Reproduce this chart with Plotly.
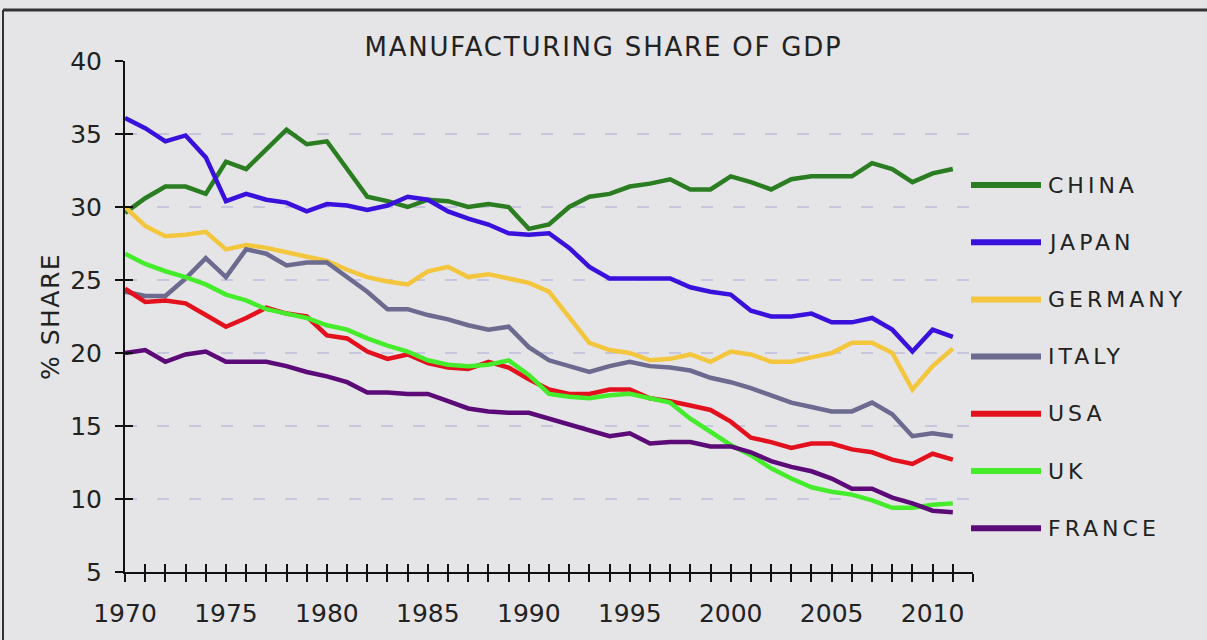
import plotly.graph_objects as go

years = list(range(1970, 2012))

china = [29.6, 30.6, 31.4, 31.4, 30.9, 33.1, 32.6, 34.0, 35.3, 34.3,
         34.5, 32.6, 30.7, 30.4, 30.0, 30.5, 30.4, 30.0, 30.2, 30.0,
         28.5, 28.8, 30.0, 30.7, 30.9, 31.4, 31.6, 31.9, 31.2, 31.2,
         32.1, 31.7, 31.2, 31.9, 32.1, 32.1, 32.1, 33.0, 32.6, 31.7,
         32.3, 32.6]
japan = [36.1, 35.4, 34.5, 34.9, 33.4, 30.4, 30.9, 30.5, 30.3, 29.7,
         30.2, 30.1, 29.8, 30.1, 30.7, 30.5, 29.7, 29.2, 28.8, 28.2,
         28.1, 28.2, 27.2, 25.9, 25.1, 25.1, 25.1, 25.1, 24.5, 24.2,
         24.0, 22.9, 22.5, 22.5, 22.7, 22.1, 22.1, 22.4, 21.6, 20.1,
         21.6, 21.1]
germany = [30.0, 28.7, 28.0, 28.1, 28.3, 27.1, 27.4, 27.2, 26.9, 26.6,
           26.3, 25.7, 25.2, 24.9, 24.7, 25.6, 25.9, 25.2, 25.4, 25.1,
           24.8, 24.2, 22.5, 20.7, 20.2, 20.0, 19.5, 19.6, 19.9, 19.4,
           20.1, 19.9, 19.4, 19.4, 19.7, 20.0, 20.7, 20.7, 20.0, 17.5,
           19.1, 20.3]
italy = [24.2, 23.9, 23.9, 25.1, 26.5, 25.2, 27.1, 26.8, 26.0, 26.2,
         26.2, 25.2, 24.2, 23.0, 23.0, 22.6, 22.3, 21.9, 21.6, 21.8,
         20.4, 19.5, 19.1, 18.7, 19.1, 19.4, 19.1, 19.0, 18.8, 18.3,
         18.0, 17.6, 17.1, 16.6, 16.3, 16.0, 16.0, 16.6, 15.8, 14.3,
         14.5, 14.3]
usa = [24.4, 23.5, 23.6, 23.4, 22.6, 21.8, 22.4, 23.1, 22.7, 22.5,
       21.2, 21.0, 20.1, 19.6, 19.9, 19.3, 19.0, 18.9, 19.4, 19.0,
       18.2, 17.5, 17.2, 17.2, 17.5, 17.5, 16.9, 16.7, 16.4, 16.1,
       15.3, 14.2, 13.9, 13.5, 13.8, 13.8, 13.4, 13.2, 12.7, 12.4,
       13.1, 12.7]
uk = [26.8, 26.1, 25.6, 25.2, 24.7, 24.0, 23.6, 23.0, 22.7, 22.4,
      21.9, 21.6, 21.0, 20.5, 20.1, 19.5, 19.2, 19.1, 19.2, 19.5,
      18.5, 17.2, 17.0, 16.9, 17.1, 17.2, 16.9, 16.6, 15.5, 14.6,
      13.7, 13.0, 12.1, 11.4, 10.8, 10.5, 10.3, 9.9, 9.4, 9.4,
      9.6, 9.7]
france = [20.0, 20.2, 19.4, 19.9, 20.1, 19.4, 19.4, 19.4, 19.1, 18.7,
          18.4, 18.0, 17.3, 17.3, 17.2, 17.2, 16.7, 16.2, 16.0, 15.9,
          15.9, 15.5, 15.1, 14.7, 14.3, 14.5, 13.8, 13.9, 13.9, 13.6,
          13.6, 13.2, 12.6, 12.2, 11.9, 11.4, 10.7, 10.7, 10.1, 9.7,
          9.2, 9.1]

series_names = ["CHINA", "JAPAN", "GERMANY", "ITALY", "USA", "UK", "FRANCE"]
series_values = [china, japan, germany, italy, usa, uk, france]
series_colors = ["#2b7d22", "#3a10dd", "#f3c63e", "#6c6a8e", "#e3101e", "#45ec2c", "#5c0a78"]

x_tick_years = list(range(1970, 2013))
x_label_years = [1970, 1975, 1980, 1985, 1990, 1995, 2000, 2005, 2010]
x_label_texts = ["1970", "1975", "1980", "1985", "1990", "1995", "2000", "2005", "2010"]
y_tick_values = [5, 10, 15, 20, 25, 30, 35, 40]

TITLE = "MANUFACTURING SHARE OF GDP"
Y_TITLE = "% SHARE"

FONT = "DejaVu Sans"
TXT = "#222222"
BG = "#e5e5e7"
AX = "#111111"
LEG_SPACING = 4.0

fig = go.Figure()
for name, vals, col in zip(series_names, series_values, series_colors):
    fig.add_trace(go.Scatter(x=years, y=vals, name=name, mode="lines",
                             line=dict(color=col, width=4.5), showlegend=False))

# invisible traces that host the overlay axes (crossing ticks, year labels)
for xa, ya in (("x2", "y2"), ("x3", "y")):
    fig.add_trace(go.Scatter(x=years, y=china, xaxis=xa, yaxis=ya, mode="lines",
                             line=dict(width=0, color="rgba(0,0,0,0)"), showlegend=False,
                             hoverinfo="skip"))

W, H = 1207, 640
ml, mr, mt, mb = 125, 234, 61, 68
pw, ph = W - ml - mr, H - mt - mb

xr = [x_tick_years[0], x_tick_years[-1]]
yr = [y_tick_values[0], y_tick_values[-1]]

fig.update_layout(
    width=W, height=H, autosize=False,
    margin=dict(l=ml, r=mr, t=mt, b=mb),
    paper_bgcolor=BG, plot_bgcolor=BG,
    font=dict(family=FONT, color=TXT, size=25),
    title=dict(text=TITLE, x=0.5, xref="container", xanchor="center",
               y=1 - 47 / H, yref="container", yanchor="middle",
               font=dict(family=FONT, size=26, color=TXT)),
    xaxis=dict(range=xr, tickmode="array", tickvals=x_tick_years,
               ticks="outside", ticklen=8, tickwidth=1.5, tickcolor=AX,
               showticklabels=False,
               showline=True, linecolor=AX, linewidth=2, showgrid=False,
               zeroline=False),
    xaxis2=dict(range=xr, overlaying="x", anchor="y", side="bottom", tickmode="array",
                tickvals=x_tick_years, ticks="inside", ticklen=8, tickwidth=1.5,
                tickcolor=AX, showticklabels=False, showgrid=False, showline=False,
                zeroline=False),
    xaxis3=dict(range=xr, overlaying="x", anchor="y", side="bottom", tickmode="array",
                tickvals=x_label_years, ticktext=x_label_texts, tickangle=0,
                ticks="outside", ticklen=19, tickcolor="rgba(0,0,0,0)",
                showticklabels=True, showgrid=False, showline=False, zeroline=False,
                tickfont=dict(size=25, color=TXT, family=FONT)),
    yaxis=dict(range=yr, tickmode="array", tickvals=y_tick_values,
               ticks="outside", ticklen=8, tickwidth=1.5, tickcolor=AX,
               showline=True, linecolor=AX, linewidth=2,
               showgrid=True, gridcolor="#c6c6de", griddash="12px,20px", gridwidth=1.5,
               zeroline=False, ticklabelstandoff=8,
               tickfont=dict(size=25, color=TXT, family=FONT),
               title=dict(text=Y_TITLE, standoff=3, font=dict(size=25, color=TXT, family=FONT))),
    yaxis2=dict(range=yr, overlaying="y", anchor="x", side="left", tickmode="array",
                tickvals=y_tick_values, ticks="inside", ticklen=8, tickwidth=1.5,
                tickcolor=AX, showticklabels=False, showgrid=False, showline=False,
                zeroline=False),
)

# custom legend (line sample + label), stacked vertically
leg_top_px, leg_step_px = 185, 57.2
lx0 = (971 - ml) / pw
lx1 = (1041 - ml) / pw
for i, (name, col) in enumerate(zip(series_names, series_colors)):
    py = leg_top_px + i * leg_step_px
    yp = (H - mb - py) / ph
    # letter-spacing (applied in the page) re-centres the text, so pre-shift by half of it
    tx = (1046 + LEG_SPACING * len(name) / 2 - ml) / pw
    fig.add_shape(type="line", xref="paper", yref="paper", x0=lx0, x1=lx1, y0=yp, y1=yp,
                  line=dict(color=col, width=6))
    fig.add_annotation(xref="paper", yref="paper", x=tx, y=yp, text=name, showarrow=False,
                       xanchor="left", yanchor="middle",
                       font=dict(family=FONT, size=22, color=TXT))

# outer frame lines (top and left)
fx_left = (3 - ml) / pw
fx_right = (W - ml) / pw
fy_top = (H - mb - 10) / ph
fy_bot = (H - mb - H) / ph
fig.add_shape(type="line", xref="paper", yref="paper", x0=fx_left, x1=fx_right,
              y0=fy_top, y1=fy_top, line=dict(color="#333", width=3))
fig.add_shape(type="line", xref="paper", yref="paper", x0=fx_left, x1=fx_left,
              y0=fy_top, y1=fy_bot, line=dict(color="#333", width=2))

post = """
document.body.style.margin='0';
document.body.style.overflow='hidden';
document.body.style.background='%s';
var gd=document.getElementById('{plot_id}');
gd.querySelectorAll('.gtitle').forEach(function(e){e.style.letterSpacing='1.8px';});
gd.querySelectorAll('.annotation-text').forEach(function(e){e.style.letterSpacing='%spx';});
gd.querySelectorAll('.ytitle').forEach(function(e){e.style.letterSpacing='1.5px';});
""" % (BG, LEG_SPACING)

fig.write_html("out.html", post_script=post, config={"displayModeBar": False})
